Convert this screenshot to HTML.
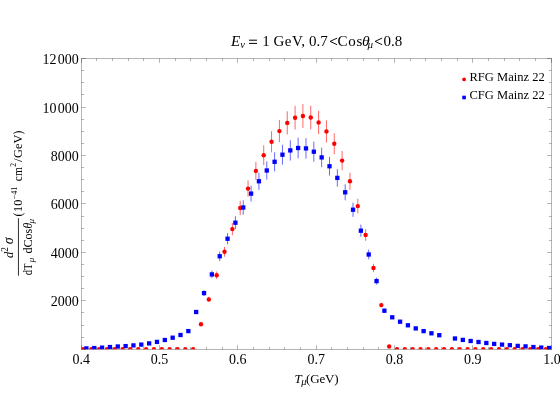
<!DOCTYPE html>
<html><head><meta charset="utf-8"><title>plot</title>
<style>
html,body{margin:0;padding:0;background:#fff;}
body{width:560px;height:420px;overflow:hidden;}
svg{display:block;will-change:transform;}
text{font-family:"Liberation Serif",serif;fill:#000;}
.it{font-style:italic;}
</style></head><body>
<svg width="560" height="420" viewBox="0 0 560 420">
<rect x="0" y="0" width="560" height="420" fill="#ffffff"/>
<defs><clipPath id="pc"><rect x="81" y="58" width="471" height="291.15"/></clipPath></defs>
<g stroke="#000" stroke-opacity="0.30" stroke-width="1" fill="none">
<path d="M81.5 349.5 h4.3 M551.5 349.5 h-4.3"/>
<path d="M81.5 337.5 h2.5 M551.5 337.5 h-2.5"/>
<path d="M81.5 325.5 h2.5 M551.5 325.5 h-2.5"/>
<path d="M81.5 312.5 h2.5 M551.5 312.5 h-2.5"/>
<path d="M81.5 300.5 h4.3 M551.5 300.5 h-4.3"/>
<path d="M81.5 288.5 h2.5 M551.5 288.5 h-2.5"/>
<path d="M81.5 276.5 h2.5 M551.5 276.5 h-2.5"/>
<path d="M81.5 264.5 h2.5 M551.5 264.5 h-2.5"/>
<path d="M81.5 252.5 h4.3 M551.5 252.5 h-4.3"/>
<path d="M81.5 240.5 h2.5 M551.5 240.5 h-2.5"/>
<path d="M81.5 228.5 h2.5 M551.5 228.5 h-2.5"/>
<path d="M81.5 216.5 h2.5 M551.5 216.5 h-2.5"/>
<path d="M81.5 203.5 h4.3 M551.5 203.5 h-4.3"/>
<path d="M81.5 191.5 h2.5 M551.5 191.5 h-2.5"/>
<path d="M81.5 179.5 h2.5 M551.5 179.5 h-2.5"/>
<path d="M81.5 167.5 h2.5 M551.5 167.5 h-2.5"/>
<path d="M81.5 155.5 h4.3 M551.5 155.5 h-4.3"/>
<path d="M81.5 143.5 h2.5 M551.5 143.5 h-2.5"/>
<path d="M81.5 131.5 h2.5 M551.5 131.5 h-2.5"/>
<path d="M81.5 119.5 h2.5 M551.5 119.5 h-2.5"/>
<path d="M81.5 107.5 h4.3 M551.5 107.5 h-4.3"/>
<path d="M81.5 94.5 h2.5 M551.5 94.5 h-2.5"/>
<path d="M81.5 82.5 h2.5 M551.5 82.5 h-2.5"/>
<path d="M81.5 70.5 h2.5 M551.5 70.5 h-2.5"/>
<path d="M81.5 58.5 h4.3 M551.5 58.5 h-4.3"/>
<path d="M81.5 349.5 v-4.3 M81.5 58.5 v4.3"/>
<path d="M96.5 349.5 v-2.5 M96.5 58.5 v2.5"/>
<path d="M112.5 349.5 v-2.5 M112.5 58.5 v2.5"/>
<path d="M128.5 349.5 v-2.5 M128.5 58.5 v2.5"/>
<path d="M143.5 349.5 v-2.5 M143.5 58.5 v2.5"/>
<path d="M159.5 349.5 v-4.3 M159.5 58.5 v4.3"/>
<path d="M175.5 349.5 v-2.5 M175.5 58.5 v2.5"/>
<path d="M190.5 349.5 v-2.5 M190.5 58.5 v2.5"/>
<path d="M206.5 349.5 v-2.5 M206.5 58.5 v2.5"/>
<path d="M222.5 349.5 v-2.5 M222.5 58.5 v2.5"/>
<path d="M237.5 349.5 v-4.3 M237.5 58.5 v4.3"/>
<path d="M253.5 349.5 v-2.5 M253.5 58.5 v2.5"/>
<path d="M269.5 349.5 v-2.5 M269.5 58.5 v2.5"/>
<path d="M284.5 349.5 v-2.5 M284.5 58.5 v2.5"/>
<path d="M300.5 349.5 v-2.5 M300.5 58.5 v2.5"/>
<path d="M316.5 349.5 v-4.3 M316.5 58.5 v4.3"/>
<path d="M331.5 349.5 v-2.5 M331.5 58.5 v2.5"/>
<path d="M347.5 349.5 v-2.5 M347.5 58.5 v2.5"/>
<path d="M363.5 349.5 v-2.5 M363.5 58.5 v2.5"/>
<path d="M378.5 349.5 v-2.5 M378.5 58.5 v2.5"/>
<path d="M394.5 349.5 v-4.3 M394.5 58.5 v4.3"/>
<path d="M410.5 349.5 v-2.5 M410.5 58.5 v2.5"/>
<path d="M425.5 349.5 v-2.5 M425.5 58.5 v2.5"/>
<path d="M441.5 349.5 v-2.5 M441.5 58.5 v2.5"/>
<path d="M457.5 349.5 v-2.5 M457.5 58.5 v2.5"/>
<path d="M472.5 349.5 v-4.3 M472.5 58.5 v4.3"/>
<path d="M488.5 349.5 v-2.5 M488.5 58.5 v2.5"/>
<path d="M504.5 349.5 v-2.5 M504.5 58.5 v2.5"/>
<path d="M519.5 349.5 v-2.5 M519.5 58.5 v2.5"/>
<path d="M535.5 349.5 v-2.5 M535.5 58.5 v2.5"/>
<path d="M551.5 349.5 v-4.3 M551.5 58.5 v4.3"/>
</g>
<rect x="81.5" y="58.5" width="470" height="291" fill="none" stroke="#000" stroke-opacity="0.29" stroke-width="1"/>
<g clip-path="url(#pc)">
<g stroke="#ff0000" stroke-width="0.6">
<path d="M208.84 296.86 V301.94"/>
<path d="M216.68 271.53 V279.07"/>
<path d="M224.52 246.83 V256.77"/>
<path d="M232.36 222.97 V235.23"/>
<path d="M240.2 200.79 V215.21"/>
<path d="M248.04 180.4 V196.8"/>
<path d="M255.88 161.8 V180"/>
<path d="M263.72 145.3 V165.1"/>
<path d="M271.56 131.22 V152.38"/>
<path d="M279.4 119.97 V142.23"/>
<path d="M287.24 111.35 V134.45"/>
<path d="M295.08 105.89 V129.51"/>
<path d="M302.92 104.1 V127.9"/>
<path d="M310.76 105.68 V129.32"/>
<path d="M318.6 110.93 V134.07"/>
<path d="M326.44 120.29 V142.51"/>
<path d="M334.28 133.32 V154.28"/>
<path d="M342.12 150.98 V170.22"/>
<path d="M349.96 172.68 V189.82"/>
<path d="M357.8 198.8 V213.4"/>
<path d="M365.64 229.17 V240.83"/>
<path d="M373.48 263.85 V272.15"/>
<path d="M381.32 302.85 V307.35"/>
</g>
<g stroke="#0000ff" stroke-width="0.6">
<path d="M196.19 310.1 V313.9"/>
<path d="M204.03 290.23 V295.97"/>
<path d="M211.87 270.58 V278.22"/>
<path d="M219.71 251.5 V261"/>
<path d="M227.56 233.11 V244.39"/>
<path d="M235.4 216.24 V229.16"/>
<path d="M243.24 200.27 V214.73"/>
<path d="M251.08 185.66 V201.54"/>
<path d="M258.92 172.68 V189.82"/>
<path d="M266.77 161.38 V179.62"/>
<path d="M274.61 152.24 V171.36"/>
<path d="M282.45 144.78 V164.62"/>
<path d="M290.29 140.26 V160.54"/>
<path d="M298.13 137.73 V158.27"/>
<path d="M305.98 138.15 V158.65"/>
<path d="M313.82 141.62 V161.78"/>
<path d="M321.66 147.61 V167.19"/>
<path d="M329.5 156.91 V175.59"/>
<path d="M337.34 169.16 V186.64"/>
<path d="M345.19 184.29 V200.31"/>
<path d="M353.03 202.58 V216.82"/>
<path d="M360.87 224.65 V236.75"/>
<path d="M368.71 249.67 V259.33"/>
<path d="M376.55 277.62 V284.58"/>
<path d="M384.4 308.73 V312.67"/>
<path d="M392.24 315.67 V318.93"/>
</g>
<g fill="#ff0000">
<circle cx="83.4" cy="349.3" r="2.2"/>
<circle cx="91.24" cy="349.3" r="2.2"/>
<circle cx="99.08" cy="349.3" r="2.2"/>
<circle cx="106.92" cy="349.3" r="2.2"/>
<circle cx="114.76" cy="349.3" r="2.2"/>
<circle cx="122.6" cy="349.3" r="2.2"/>
<circle cx="130.44" cy="349.3" r="2.2"/>
<circle cx="138.28" cy="349.3" r="2.2"/>
<circle cx="146.12" cy="349.3" r="2.2"/>
<circle cx="153.96" cy="349.3" r="2.2"/>
<circle cx="161.8" cy="349.3" r="2.2"/>
<circle cx="169.64" cy="349.3" r="2.2"/>
<circle cx="177.48" cy="349.3" r="2.2"/>
<circle cx="185.32" cy="349.3" r="2.2"/>
<circle cx="193.16" cy="349.3" r="2.2"/>
<circle cx="201" cy="324.2" r="2.2"/>
<circle cx="208.84" cy="299.4" r="2.2"/>
<circle cx="216.68" cy="275.3" r="2.2"/>
<circle cx="224.52" cy="251.8" r="2.2"/>
<circle cx="232.36" cy="229.1" r="2.2"/>
<circle cx="240.2" cy="208" r="2.2"/>
<circle cx="248.04" cy="188.6" r="2.2"/>
<circle cx="255.88" cy="170.9" r="2.2"/>
<circle cx="263.72" cy="155.2" r="2.2"/>
<circle cx="271.56" cy="141.8" r="2.2"/>
<circle cx="279.4" cy="131.1" r="2.2"/>
<circle cx="287.24" cy="122.9" r="2.2"/>
<circle cx="295.08" cy="117.7" r="2.2"/>
<circle cx="302.92" cy="116" r="2.2"/>
<circle cx="310.76" cy="117.5" r="2.2"/>
<circle cx="318.6" cy="122.5" r="2.2"/>
<circle cx="326.44" cy="131.4" r="2.2"/>
<circle cx="334.28" cy="143.8" r="2.2"/>
<circle cx="342.12" cy="160.6" r="2.2"/>
<circle cx="349.96" cy="181.25" r="2.2"/>
<circle cx="357.8" cy="206.1" r="2.2"/>
<circle cx="365.64" cy="235" r="2.2"/>
<circle cx="373.48" cy="268" r="2.2"/>
<circle cx="381.32" cy="305.1" r="2.2"/>
<circle cx="389.16" cy="346.5" r="2.2"/>
<circle cx="397" cy="349.3" r="2.2"/>
<circle cx="404.84" cy="349.3" r="2.2"/>
<circle cx="412.68" cy="349.3" r="2.2"/>
<circle cx="420.52" cy="349.3" r="2.2"/>
<circle cx="428.36" cy="349.3" r="2.2"/>
<circle cx="436.2" cy="349.3" r="2.2"/>
<circle cx="444.04" cy="349.3" r="2.2"/>
<circle cx="451.88" cy="349.3" r="2.2"/>
<circle cx="459.72" cy="349.3" r="2.2"/>
<circle cx="467.56" cy="349.3" r="2.2"/>
<circle cx="475.4" cy="349.3" r="2.2"/>
<circle cx="483.24" cy="349.3" r="2.2"/>
<circle cx="491.08" cy="349.3" r="2.2"/>
<circle cx="498.92" cy="349.3" r="2.2"/>
<circle cx="506.76" cy="349.3" r="2.2"/>
<circle cx="514.6" cy="349.3" r="2.2"/>
<circle cx="522.44" cy="349.3" r="2.2"/>
<circle cx="530.28" cy="349.3" r="2.2"/>
<circle cx="538.12" cy="349.3" r="2.2"/>
<circle cx="545.96" cy="349.3" r="2.2"/>
</g>
<g fill="#0000ff">
<rect x="84.25" y="346.25" width="4.3" height="4.3"/>
<rect x="92.09" y="345.9" width="4.3" height="4.3"/>
<rect x="99.93" y="345.5" width="4.3" height="4.3"/>
<rect x="107.78" y="344.9" width="4.3" height="4.3"/>
<rect x="115.62" y="344.35" width="4.3" height="4.3"/>
<rect x="123.46" y="343.95" width="4.3" height="4.3"/>
<rect x="131.3" y="343.25" width="4.3" height="4.3"/>
<rect x="139.14" y="342.45" width="4.3" height="4.3"/>
<rect x="146.99" y="341.25" width="4.3" height="4.3"/>
<rect x="154.83" y="339.75" width="4.3" height="4.3"/>
<rect x="162.67" y="337.85" width="4.3" height="4.3"/>
<rect x="170.51" y="335.55" width="4.3" height="4.3"/>
<rect x="178.35" y="332.85" width="4.3" height="4.3"/>
<rect x="186.2" y="328.95" width="4.3" height="4.3"/>
<rect x="194.04" y="309.85" width="4.3" height="4.3"/>
<rect x="201.88" y="290.95" width="4.3" height="4.3"/>
<rect x="209.72" y="272.25" width="4.3" height="4.3"/>
<rect x="217.56" y="254.1" width="4.3" height="4.3"/>
<rect x="225.41" y="236.6" width="4.3" height="4.3"/>
<rect x="233.25" y="220.55" width="4.3" height="4.3"/>
<rect x="241.09" y="205.35" width="4.3" height="4.3"/>
<rect x="248.93" y="191.45" width="4.3" height="4.3"/>
<rect x="256.77" y="179.1" width="4.3" height="4.3"/>
<rect x="264.62" y="168.35" width="4.3" height="4.3"/>
<rect x="272.46" y="159.65" width="4.3" height="4.3"/>
<rect x="280.3" y="152.55" width="4.3" height="4.3"/>
<rect x="288.14" y="148.25" width="4.3" height="4.3"/>
<rect x="295.98" y="145.85" width="4.3" height="4.3"/>
<rect x="303.83" y="146.25" width="4.3" height="4.3"/>
<rect x="311.67" y="149.55" width="4.3" height="4.3"/>
<rect x="319.51" y="155.25" width="4.3" height="4.3"/>
<rect x="327.35" y="164.1" width="4.3" height="4.3"/>
<rect x="335.19" y="175.75" width="4.3" height="4.3"/>
<rect x="343.04" y="190.15" width="4.3" height="4.3"/>
<rect x="350.88" y="207.55" width="4.3" height="4.3"/>
<rect x="358.72" y="228.55" width="4.3" height="4.3"/>
<rect x="366.56" y="252.35" width="4.3" height="4.3"/>
<rect x="374.4" y="278.95" width="4.3" height="4.3"/>
<rect x="382.25" y="308.55" width="4.3" height="4.3"/>
<rect x="390.09" y="315.15" width="4.3" height="4.3"/>
<rect x="397.93" y="319.55" width="4.3" height="4.3"/>
<rect x="405.77" y="323.15" width="4.3" height="4.3"/>
<rect x="413.61" y="326.25" width="4.3" height="4.3"/>
<rect x="421.46" y="328.95" width="4.3" height="4.3"/>
<rect x="429.3" y="331.15" width="4.3" height="4.3"/>
<rect x="437.14" y="333.05" width="4.3" height="4.3"/>
<rect x="452.82" y="336.35" width="4.3" height="4.3"/>
<rect x="460.67" y="337.75" width="4.3" height="4.3"/>
<rect x="468.51" y="338.85" width="4.3" height="4.3"/>
<rect x="476.35" y="339.85" width="4.3" height="4.3"/>
<rect x="484.19" y="340.85" width="4.3" height="4.3"/>
<rect x="492.03" y="341.75" width="4.3" height="4.3"/>
<rect x="499.88" y="342.45" width="4.3" height="4.3"/>
<rect x="507.72" y="343.05" width="4.3" height="4.3"/>
<rect x="515.56" y="343.75" width="4.3" height="4.3"/>
<rect x="523.4" y="344.25" width="4.3" height="4.3"/>
<rect x="531.24" y="344.9" width="4.3" height="4.3"/>
<rect x="539.09" y="345.45" width="4.3" height="4.3"/>
<rect x="546.93" y="345.85" width="4.3" height="4.3"/>
</g>
</g>
<g font-size="14px">
<text x="81.2" y="363.6" text-anchor="middle">0.4</text>
<text x="159.53" y="363.6" text-anchor="middle">0.5</text>
<text x="237.87" y="363.6" text-anchor="middle">0.6</text>
<text x="316.2" y="363.6" text-anchor="middle">0.7</text>
<text x="394.53" y="363.6" text-anchor="middle">0.8</text>
<text x="472.87" y="363.6" text-anchor="middle">0.9</text>
<text x="552" y="363.6" text-anchor="middle">1.0</text>
<text x="78.7" y="305.55" text-anchor="end">2000</text>
<text x="78.7" y="257.55" text-anchor="end">4000</text>
<text x="78.7" y="208.55" text-anchor="end">6000</text>
<text x="78.7" y="160.55" text-anchor="end">8000</text>
<text x="78.7" y="112.55" text-anchor="end">10<tspan dx="1.2">000</tspan></text>
<text x="78.7" y="63.55" text-anchor="end">12<tspan dx="1.2">000</tspan></text>
</g>
<g font-size="15px">
<text x="231" y="45.8" class="it">E</text>
<text x="240.3" y="47.8" class="it" font-size="10.5px">&#957;</text>
<path d="M249 40.2 H257 M249 43.4 H257" stroke="#000" stroke-width="1" fill="none"/>
<text x="262.2" y="45.8">1</text>
<text x="273.6" y="45.8" letter-spacing="0.4">GeV,</text>
<text x="309.1" y="45.8">0.7</text>
<path d="M337.1 38.1 L330.1 41.4 L337.1 44.7" stroke="#000" stroke-width="0.95" fill="none"/>
<text x="337.5" y="45.8" letter-spacing="0.7">Cos</text>
<text x="361.9" y="45.8" class="it" font-size="15.6px">&#952;</text>
<text x="367.4" y="47.7" class="it" font-size="11px">&#956;</text>
<path d="M382.1 38.1 L375.1 41.4 L382.1 44.7" stroke="#000" stroke-width="0.95" fill="none"/>
<text x="383.4" y="45.8">0.8</text>
</g>
<g font-size="13px">
<text x="294.6" y="382.9" class="it">T</text>
<text x="301.3" y="385.0" class="it" font-size="10.5px">&#956;</text>
<text x="306.1" y="382.9" letter-spacing="-0.2">(GeV)</text>
</g>
<g transform="translate(0 276) rotate(-90)">
<path d="M0.3 18.45 H57.8" stroke="#1a1a1a" stroke-width="0.9" fill="none"/>
<text x="18" y="13.3" font-size="13px" class="it" textLength="6.2" lengthAdjust="spacingAndGlyphs">d</text>
<text x="24.2" y="8.4" font-size="9.5px" textLength="4.6" lengthAdjust="spacingAndGlyphs">2</text>
<text x="31.8" y="13.3" font-size="14px" class="it">&#963;</text>
<text x="0.7" y="32.4" font-size="13px" textLength="11.9" lengthAdjust="spacingAndGlyphs">dT</text>
<text x="13.8" y="33.9" font-size="9px" class="it" textLength="4.5" lengthAdjust="spacingAndGlyphs">&#956;</text>
<text x="22.4" y="32.4" font-size="13px" textLength="24.9" lengthAdjust="spacingAndGlyphs">dCos</text>
<text x="47.5" y="32.4" font-size="13.5px" class="it" textLength="5.7" lengthAdjust="spacingAndGlyphs">&#952;</text>
<text x="52.5" y="33.9" font-size="9px" class="it" textLength="4.5" lengthAdjust="spacingAndGlyphs">&#956;</text>
<text x="59.5" y="21.8" font-size="13px" textLength="4" lengthAdjust="spacingAndGlyphs">(</text>
<text x="64" y="21.8" font-size="13px" textLength="12.3" lengthAdjust="spacingAndGlyphs">10</text>
<text x="76.8" y="16.6" font-size="8.5px" textLength="12.6" lengthAdjust="spacingAndGlyphs">&#8722;41</text>
<text x="94.8" y="21.8" font-size="13px" textLength="14" lengthAdjust="spacingAndGlyphs">cm</text>
<text x="109.3" y="16.2" font-size="8.5px" textLength="3.8" lengthAdjust="spacingAndGlyphs">2</text>
<text x="113.9" y="21.8" font-size="13px">/</text>
<text x="118" y="21.8" font-size="13px" textLength="23.5" lengthAdjust="spacingAndGlyphs">GeV</text>
<text x="141.5" y="21.8" font-size="13px" textLength="3.9" lengthAdjust="spacingAndGlyphs">)</text>
</g>
<circle cx="464.1" cy="79.4" r="1.85" fill="#ff0000"/>
<rect x="462.25" y="95.7" width="3.6" height="3.6" fill="#0000ff"/>
<g font-size="13.2px">
<text x="469.5" y="80.8" textLength="75.2" lengthAdjust="spacingAndGlyphs">RFG Mainz 22</text>
<text x="469.5" y="98.7" textLength="75.2" lengthAdjust="spacingAndGlyphs">CFG Mainz 22</text>
</g>
</svg>
</body></html>
